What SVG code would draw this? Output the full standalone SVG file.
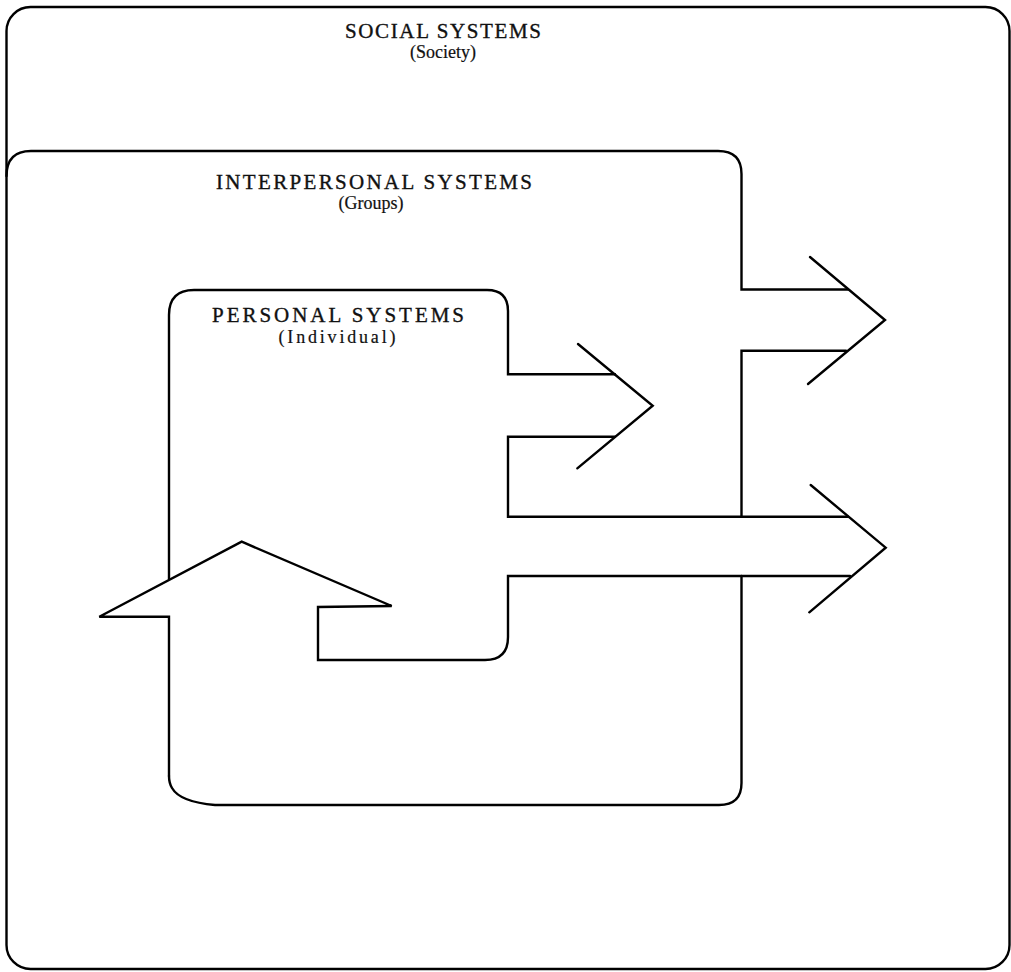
<svg xmlns="http://www.w3.org/2000/svg" width="1011" height="972" viewBox="0 0 1011 972">
  <style>
    .ln { fill: none; stroke: #000; stroke-width: 2.4; stroke-linejoin: miter; stroke-linecap: round; }
    .ttl { font-family: "Liberation Serif", "Times New Roman", serif; font-size: 21px; fill: #111; stroke: #111; stroke-width: 0.35; text-anchor: middle; }
    .sub { font-family: "Liberation Serif", "Times New Roman", serif; font-size: 18px; fill: #111; stroke: #111; stroke-width: 0.2; text-anchor: middle; }
  </style>
  <rect x="0" y="0" width="1011" height="972" fill="#fff"/>

  <!-- Society: outer frame -->
  <g id="social-systems">
    <rect class="ln" x="6.5" y="7" width="1003" height="962" rx="24" ry="24"/>
    <text class="ttl" x="443" y="38" textLength="196" lengthAdjust="spacing">SOCIAL SYSTEMS</text>
    <text class="sub" x="443" y="58">(Society)</text>
  </g>

  <!-- Groups: frame with its outgoing arrow -->
  <g id="interpersonal-systems">
    <path class="ln" d="M6.5,176 Q6.5,151 31,151 H718 Q741.5,151 741.5,174 V289.5 H848"/>
    <path class="ln" d="M810,257 L885,320 L808,384"/>
    <path class="ln" d="M846,350.7 H741.5 V516.7"/>
    <path class="ln" d="M741.5,576 V783 Q741.5,805 719,805 H215 Q180,802 172,788 Q169,783 169,776"/>
    <text class="ttl" x="374" y="189" textLength="316" lengthAdjust="spacing">INTERPERSONAL SYSTEMS</text>
    <text class="sub" x="371" y="209">(Groups)</text>
  </g>

  <!-- Individual: frame, outgoing arrows and incoming arrow -->
  <g id="personal-systems">
    <path class="ln" d="M169,579 V315 Q169,290 194,290 H487 Q508,290 508,311 V374.3 H615"/>
    <path class="ln" d="M578,344 L652.7,405.7 L577.3,468.3"/>
    <path class="ln" d="M615,436.7 H508 V516.7 H848"/>
    <text class="ttl" x="338" y="322" textLength="252" lengthAdjust="spacing">PERSONAL SYSTEMS</text>
    <text class="sub" x="337" y="343" textLength="117" lengthAdjust="spacing">(Individual)</text>
  </g>

  <!-- Flow arrows -->
  <g id="connectors">
    <path class="ln" d="M810.7,485 L885.7,547.7 L809.3,612.3"/>
    <path class="ln" d="M850,576 H508 V637 Q508,660 485,660 H318 V607 L391.7,606 L241.7,541.7 L99.3,616.7 H169 V776"/>
  </g>
</svg>
